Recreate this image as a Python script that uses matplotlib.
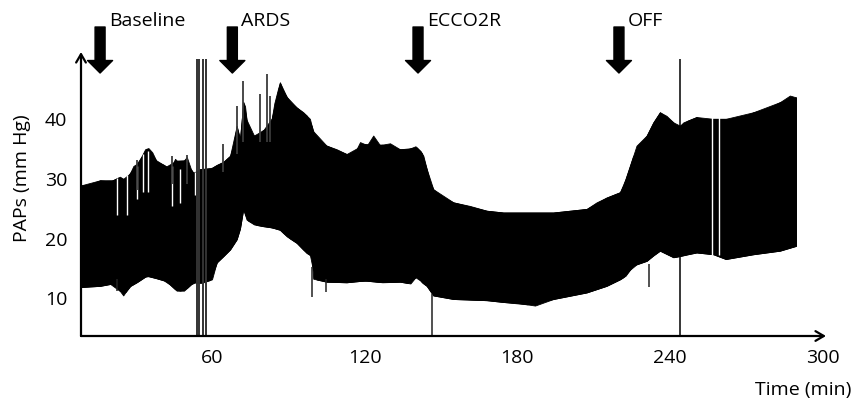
import numpy as np
import matplotlib
matplotlib.use('Agg')
import matplotlib.pyplot as plt
import matplotlib.transforms as mtransforms

plt.rcParams['font.family'] = ['Open Sans', 'DejaVu Sans']

# upper envelope of the PAPs trace (time in min, mm Hg)
upper_t = [8.1, 12, 16, 20, 23.8, 26, 28, 29.1, 31, 33.7, 35, 36.5, 38.3, 41, 43.5,
           45.5, 47.5, 50.1, 51.7, 53.3, 55, 59.2, 62, 64.5, 67.1, 68.4, 69.7, 71,
           72.3, 73, 74.3, 77.6, 80, 82.8, 84.5, 86, 86.7, 88, 90.7, 93.3, 95.9, 98.5,
           99.5, 101.1, 105.1, 109, 112.9, 115.5, 118.2, 121, 123.4, 126, 130, 133.9,
           137, 140, 142, 143.1, 144.4, 145.7, 147, 148.3, 149.6, 154.9, 161.4, 168,
           174.5, 184, 194.2, 200.7, 207.3, 211.2, 215.1, 220.4, 221.7, 224.3, 226.9,
           230.9, 233.5, 236.1, 238.7, 241.4, 242.7, 245.3, 250.5, 253, 257.1, 262,
           267.5, 272.8, 278, 283.3, 287.2, 289.6]
upper_v = [28.7, 28.9, 29.6, 29.4, 30.2, 29.6, 31, 32, 32.5, 34.8, 35, 34.3, 32.7, 32.2,
           31.5, 33.2, 32.2, 33.5, 31.5, 30.4, 31.5, 31.5, 32.2, 32.7, 33.7, 35.4, 38.7,
           36.5, 42.7, 42, 37.1, 37.1, 38, 38.2, 42.5, 45, 46, 44.5, 42.7, 41.8, 41,
           39.9, 38.2, 36.2, 35.4, 34.8, 34, 33.7, 36, 35.5, 37.1, 35.5, 35.8, 34.8,
           34.8, 35.3, 34.5, 33.7, 31.5, 29.3, 28.1, 27.6, 27, 25.9, 25.3, 24.5, 24.2,
           24.2, 24.2, 24.5, 24.8, 25.9, 26.7, 27.6, 28.7, 32, 35.4, 37.1, 39.3, 41,
           40.4, 39.3, 38.2, 39.3, 40.2, 39.6, 39.9, 39.9, 39.9, 41, 41.5, 42.7, 43.8,
           43.5]

# lower envelope
lower_t = [8.1, 16, 21, 23, 25.1, 27.5, 30.4, 34.3, 38, 42, 46.1, 49, 52.6, 56, 60,
           61.8, 64.5, 67.1, 69.7, 71, 72.3, 73.6, 76.5, 80.2, 83.5, 86.7, 89.4, 93.3,
           97.2, 99.2, 99.8, 105, 112.9, 120, 127, 134, 138, 140.5, 142.5, 144.4, 147,
           154.9, 168, 174.5, 181, 187, 194.2, 207.3, 215.1, 220.4, 222.6, 225.5,
           230.9, 233.5, 236.1, 241.4, 244, 247, 250.5, 257.1, 262, 272.8, 283.3, 289.6]
lower_v = [11.7, 11.9, 12.3, 11.5, 10.3, 11.8, 12.5, 13.6, 13.2, 12.7, 11.1, 11.1, 12.5,
           12.4, 13.0, 15.8, 16.9, 18, 19.7, 21.5, 24.8, 23, 22.2, 21.9, 21.7, 21.3,
           20.2, 19.1, 17.4, 16.9, 13.1, 12.6, 12.5, 12.8, 12.5, 12.6, 12.3, 13.6, 12.5,
           11.9, 10.3, 9.7, 9.5, 9.2, 9.0, 8.6, 9.7, 10.8, 11.9, 13.0, 13.6, 15.3, 16.1,
           17, 17.8, 16.7, 16.9, 17.2, 17.5, 17.2, 16.4, 17.2, 17.8, 18.6]

# artefact lines crossing the whole axis
artefact_t = [54.0, 54.9, 56.6, 57.6]
artefact_top = [49.9, 49.9, 49.9, 49.9]
marker_line_t = [244.0]
marker_line_top = [49.9]

# single beats sticking out above the trace
peak_t = [30.4, 44.2, 50.1, 64.5, 69.7, 72.3, 78.8, 81.5, 82.8]
peak_top = [33.0, 33.6, 33.8, 35.7, 42.1, 46.3, 44.0, 47.4, 43.8]
peak_base = [28, 29, 29, 31, 34, 36, 36, 36, 36]

# downward spikes below the trace
dip_t = [22.5, 99.3, 105, 146.5, 231.8]
dip_bottom = [11.0, 10.0, 10.9, 3.5, 11.7]
dip_base = [13, 15, 13, 10.5, 15.5]

# white gaps inside the black band
gap_t = [22.5, 26.5, 30.4, 33.0, 35.0, 44.2, 47.4, 53.3, 256.4, 259.3]
gap_top = [30, 30.5, 32, 34, 34.5, 32, 31.5, 31, 40.5, 40.5]
gap_bottom = [23.7, 23.7, 26.5, 27.6, 27.6, 25.3, 25.8, 27.2, 17.0, 17.0]

events = ['Baseline', 'ARDS', 'ECCO2R', 'OFF']
event_t = [16, 68, 141, 220]

x_ticks = [60, 120, 180, 240, 300]
y_ticks = [10, 20, 30, 40]

fig = plt.figure(figsize=(8.56, 4.02), dpi=100)
ax = fig.add_axes([81 / 856, 65 / 402, 745 / 856, 284 / 402])
ax.set_xlim(8.5, 301.4)
ax.set_ylim(3.5, 51.1)

ax.fill_between(upper_t, np.interp(upper_t, lower_t, lower_v), upper_v,
                color='black', linewidth=0.6, edgecolor='black')
ax.fill_between(lower_t, lower_v, np.interp(lower_t, upper_t, upper_v),
                color='black', linewidth=0.6, edgecolor='black')
ax.vlines(gap_t, gap_bottom, gap_top, color='white', linewidth=1.0)
ax.vlines(peak_t, peak_base, peak_top, color='#3a3a3a', linewidth=1.3)
ax.vlines(dip_t, dip_bottom, dip_base, color='#222222', linewidth=1.1)
ax.vlines(artefact_t, 3.5, artefact_top, color='#333333', linewidth=1.4)
ax.vlines(marker_line_t, 3.5, marker_line_top, color='black', linewidth=1.1)

for s in ax.spines.values():
    s.set_visible(False)
ax.set_xticks(x_ticks)
ax.set_yticks(y_ticks)
ax.tick_params(length=0, labelsize=14, colors='black')
ax.tick_params(axis='x', pad=9)
ax.tick_params(axis='y', pad=10)

# axes drawn as arrows
arrow_kw = dict(arrowstyle='->,head_length=0.6,head_width=0.35', color='black',
                linewidth=1.6, shrinkA=0, shrinkB=0)
ax.annotate('', xy=(0, 1), xytext=(0, 0), xycoords='axes fraction',
            arrowprops=arrow_kw, annotation_clip=False)
ax.annotate('', xy=(1, 0), xytext=(0, 0), xycoords='axes fraction',
            arrowprops=arrow_kw, annotation_clip=False)

# event markers
trans = mtransforms.blended_transform_factory(ax.transData, ax.transAxes)
for name, t in zip(events, event_t):
    ax.annotate('', xy=(t, 0.926), xytext=(t, 1.088), xycoords=trans,
                arrowprops=dict(arrowstyle='simple,head_width=1.8,head_length=0.9,tail_width=0.72',
                                color='black', shrinkA=0, shrinkB=0, mutation_scale=10),
                annotation_clip=False)
    ax.text(t + 3.6, 1.112, name, transform=trans, fontsize=14,
            ha='left', va='center', clip_on=False)

fig.text(22 / 856, 1 - 178 / 402, 'PAPs (mm Hg)', rotation=90, fontsize=14,
         ha='center', va='center')
fig.text(851 / 856, 1 - 390 / 402, 'Time (min)', fontsize=14, ha='right', va='center')

fig.savefig('out.png', dpi=100)
